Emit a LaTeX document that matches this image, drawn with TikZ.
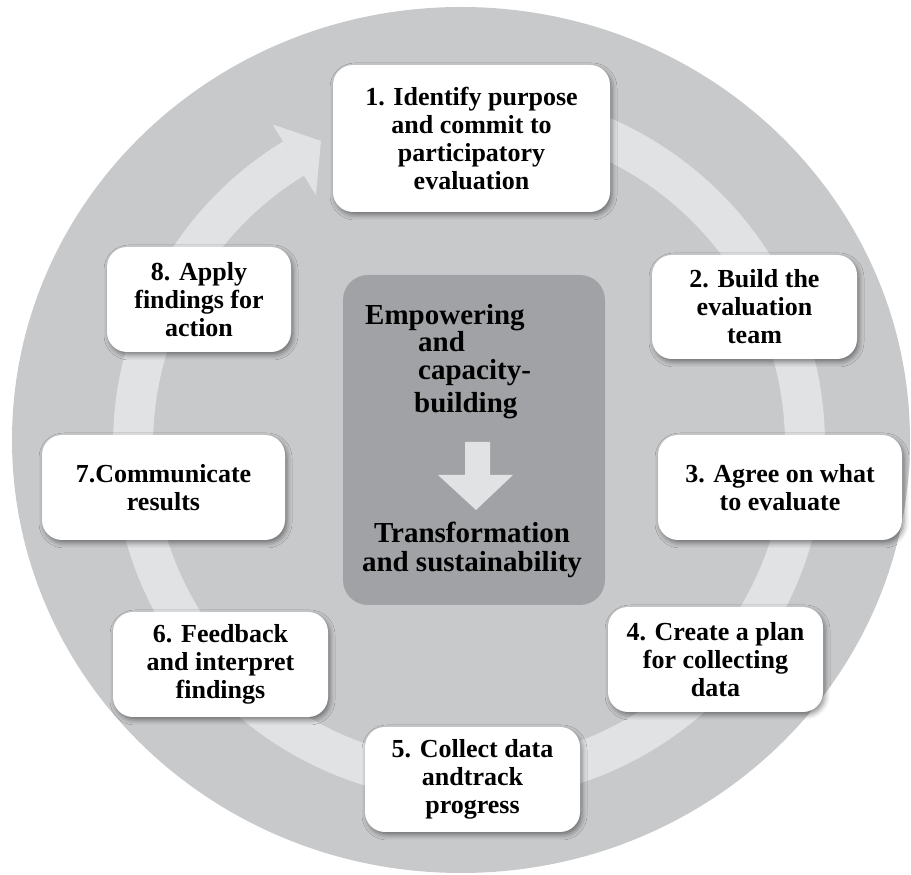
\documentclass[tikz,border=0pt]{standalone}
\usepackage{fontspec}
\setmainfont{Liberation Serif}
\usetikzlibrary{calc,shadows.blur}
\definecolor{discgray}{RGB}{200,201,203}
\definecolor{ringgray}{RGB}{225,226,228}
\definecolor{coregray}{RGB}{161,162,165}
\tikzset{
  stepbox/.style={fill=white, rounded corners=20pt, align=center, inner sep=0pt,
    font=\fontsize{26}{28}\selectfont\bfseries,
    blur shadow={shadow xshift=2pt, shadow yshift=-3pt, shadow blur radius=5pt, shadow opacity=45}},
  coretext/.style={font=\fontsize{29}{30}\selectfont\bfseries, inner sep=0pt}
}
\begin{document}
\begin{tikzpicture}[x=1pt,y=1pt]
\useasboundingbox (0,0) rectangle (911,875);
% disc and cycle band
\fill[discgray] (461,435) ellipse [x radius=449, y radius=433];
\coordinate (c) at (469,430);
\draw[ringgray, line width=40pt] ($(c)+(90:336)$) arc[start angle=90, end angle=-238.5, radius=336];
\fill[ringgray] ($(c)+(121.5:376)$) -- (321,734) -- ($(c)+(121.5:293)$) -- cycle;
% centre
\node[fill=coregray, rounded corners=25pt, minimum width=262pt, minimum height=330pt, inner sep=0pt] (core) at (474,435) {};
\node[coretext, anchor=base west] (emp) at (365,550) {Empowering};
\node[coretext, anchor=base west] (and) at (418,523) {and};
\node[coretext, anchor=base west] (cap) at (418,495) {capacity-};
\node[coretext, anchor=base west] (bui) at (414,462) {building};
\fill[ringgray] (465,433) -- (490,433) -- (490,400) -- (513,400) -- (476,365) -- (438,400) -- (465,400) -- cycle;
\node[coretext, anchor=base] (tra) at (472,332) {Transformation};
\node[coretext, anchor=base] (sus) at (472,303) {and sustainability};
% steps
\foreach \n/\x/\y/\w/\h/\t in {
  1/471.5/736.5/277/147/{1. Identify purpose\\and commit to\\participatory\\evaluation},
  2/754.5/568/205/104/{2. Build the\\evaluation\\team},
  3/780/387.5/244/105/{3. Agree on what\\to evaluate},
  4/715.5/215.5/215/105/{4. Create a plan\\for collecting\\data},
  5/472.5/95.5/215/105/{5. Collect data\\andtrack\\progress},
  6/220.5/210.5/215/105/{6. Feedback\\and interpret\\findings},
  7/163.5/387.5/243/105/{7.Communicate\\results},
  8/199/575.5/184/105/{8. Apply\\findings for\\action}}
  \node[stepbox, minimum width=\w pt, minimum height=\h pt] (s\n) at (\x,\y) {\t};
\end{tikzpicture}
\end{document}
